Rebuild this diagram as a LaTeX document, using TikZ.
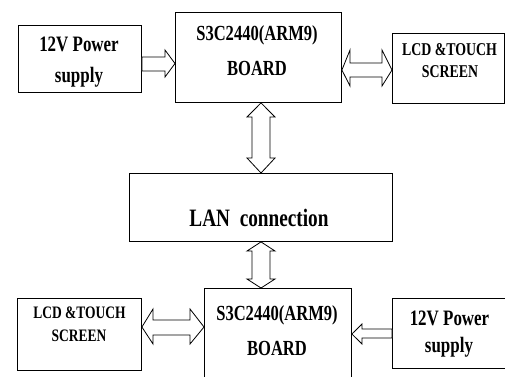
\documentclass[tikz,border=0pt]{standalone}
\usepackage{fontspec}
\setmainfont{Liberation Serif}
\usepackage{graphicx}

\newcommand{\nrw}[1]{\scalebox{0.77}[1]{#1}}

\tikzset{
  blk/.style={draw, line width=0.9pt, inner sep=0pt, anchor=north west},
  lbl/.style={inner sep=0pt, anchor=base, font=\bfseries},
  hollow/.style={draw, line width=0.8pt, fill=white, line join=miter},
}

\begin{document}
\begin{tikzpicture}[x=1pt,y=-1pt]
  \useasboundingbox (0,0) rectangle (505,376);
  % blocks
  \node[blk, minimum width=123pt, minimum height=67pt] (pw1) at (18,25) {};
  \node[blk, minimum width=166pt, minimum height=90pt] (brd1) at (175,12) {};
  \node[blk, minimum width=112pt, minimum height=70pt] (lcd1) at (392,33) {};
  \node[blk, minimum width=263pt, minimum height=68pt] (lan) at (129,173) {};
  \node[blk, minimum width=147pt, minimum height=100pt] (brd2) at (204,288) {};
  \node[blk, minimum width=124pt, minimum height=72pt] (lcd2) at (17,298) {};
  \node[blk, minimum width=120pt, minimum height=70pt] (pw2) at (392,298) {};

  % texts
  \node[lbl, font=\fontsize{22}{26}\selectfont\bfseries] (pw1a) at (79,51) {\nrw{12V Power}};
  \node[lbl, font=\fontsize{22}{26}\selectfont\bfseries] (pw1b) at (79,82) {\nrw{supply}};
  \node[lbl, font=\fontsize{21.5}{26}\selectfont\bfseries] (brd1a) at (257,40) {\nrw{S3C2440(ARM9)}};
  \node[lbl, font=\fontsize{21.5}{26}\selectfont\bfseries] (brd1b) at (257,75) {\nrw{BOARD}};
  \node[lbl, font=\fontsize{18}{22}\selectfont\bfseries] (lcd1a) at (449.5,55) {\nrw{LCD \&TOUCH}};
  \node[lbl, font=\fontsize{18}{22}\selectfont\bfseries] (lcd1b) at (450,77) {\nrw{SCREEN}};
  \node[lbl, font=\fontsize{25}{30}\selectfont\bfseries] (lana) at (259,226) {\nrw{LAN\ \ connection}};
  \node[lbl, font=\fontsize{21.5}{26}\selectfont\bfseries] (brd2a) at (277,320) {\nrw{S3C2440(ARM9)}};
  \node[lbl, font=\fontsize{21.5}{26}\selectfont\bfseries] (brd2b) at (277,355) {\nrw{BOARD}};
  \node[lbl, font=\fontsize{17.5}{22}\selectfont\bfseries] (lcd2a) at (79.5,318) {\nrw{LCD \&TOUCH}};
  \node[lbl, font=\fontsize{17.5}{22}\selectfont\bfseries] (lcd2b) at (79,341) {\nrw{SCREEN}};
  \node[lbl, font=\fontsize{22}{26}\selectfont\bfseries] (pw2a) at (449.5,325) {\nrw{12V Power}};
  \node[lbl, font=\fontsize{22}{26}\selectfont\bfseries] (pw2b) at (449,352) {\nrw{supply}};

  % hollow arrows between the blocks
  \draw[hollow] (pw1.east |- 0,57) -- (165,57) -- (165,50) -- (brd1.west |- 0,63.5)
    -- (165,77) -- (165,71) -- (pw1.east |- 0,71) -- cycle;
  \draw[hollow] (brd1.east |- 0,70) -- (350,50) -- (350,63) -- (382,63) -- (382,50)
    -- (lcd1.west |- 0,70) -- (382,86) -- (382,77) -- (350,77) -- (350,86) -- cycle;
  \draw[hollow] (brd1.south -| 261,0) -- (275,117) -- (270,117) -- (270,158) -- (275,158)
    -- (lan.north -| 261,0) -- (247,158) -- (252,158) -- (252,117) -- (247,117) -- cycle;
  \draw[hollow] (lan.south -| 261,0) -- (275,251) -- (270,251) -- (270,279) -- (275,279)
    -- (brd2.north -| 261,0) -- (247,279) -- (252,279) -- (252,251) -- (247,251) -- cycle;
  \draw[hollow] (lcd2.east |- 0,327) -- (153,309) -- (153,320) -- (190,320) -- (190,309)
    -- (brd2.west |- 0,327) -- (190,344) -- (190,335) -- (153,335) -- (153,344) -- cycle;
  \draw[hollow] (pw2.west |- 0,329) -- (362,329) -- (362,324) -- (brd2.east |- 0,334)
    -- (362,344) -- (362,338) -- (pw2.west |- 0,338) -- cycle;
\end{tikzpicture}
\end{document}
